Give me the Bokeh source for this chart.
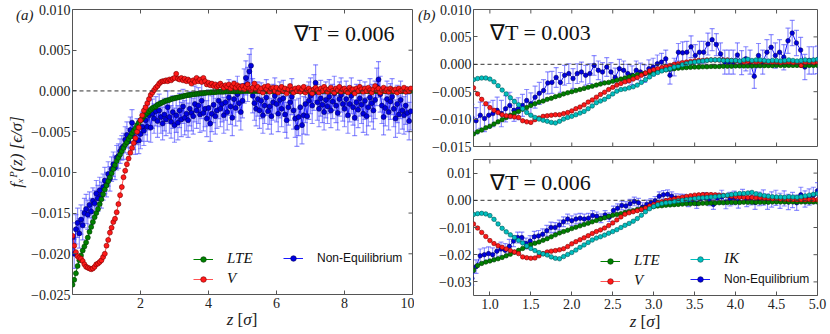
import numpy as np
from bokeh.plotting import figure
from bokeh.models import (ColumnDataSource, Whisker, TeeHead, Span, Label, Legend, LegendItem,
                          FixedTicker, CustomJSTickFormatter, Range1d, Div)
from bokeh.layouts import row, column
from bokeh.embed import file_html
from bokeh.resources import INLINE

SCALE = 1e-3  # values below are in units of 1e-3 eps/sigma

# ---------------- panel (a): grad T = 0.006, z from 0 to 9.95 ----------------
A_Z0, A_Z1 = 0.0, 9.95
lte_a = [-23.8, -23.2, -22.4, -21.5, -20.8, -20.2, -19.6, -19.1, -18.6, -18.0,
         -17.3, -16.7, -16.1, -15.5, -15.0, -14.5, -13.9, -13.3, -12.7, -12.1,
         -11.6, -11.1, -10.6, -10.1, -9.6, -9.1, -8.6, -8.2, -7.8, -7.4,
         -7.0, -6.6, -6.3, -5.9, -5.6, -5.2, -4.9, -4.6, -4.2, -3.9,
         -3.6, -3.4, -3.1, -2.9, -2.7, -2.5, -2.3, -2.1, -2.0, -1.9,
         -1.7, -1.6, -1.5, -1.4, -1.3, -1.2, -1.15, -1.1, -1.0, -0.95,
         -0.9, -0.85, -0.8, -0.75, -0.7, -0.65, -0.6, -0.55, -0.5, -0.5,
         -0.45, -0.4, -0.4, -0.35, -0.35, -0.3, -0.3, -0.25, -0.25, -0.2,
         -0.2, -0.2, -0.15, -0.15, -0.15, -0.1, -0.1, -0.1, -0.1, -0.1,
         -0.05, -0.05, -0.05, -0.05, -0.05, -0.05, -0.05, -0.05, -0.05, -0.05] + [0.0] * 100
v_a = [-17.8, -19.0, -19.8, -20.3, -20.5, -20.6, -20.9, -21.3, -21.6, -21.7,
       -21.8, -21.9, -21.8, -21.6, -21.3, -21.2, -21.0, -20.8, -20.4, -20.0,
       -19.0, -18.3, -17.4, -16.8, -16.1, -15.7, -14.9, -13.9, -12.8, -11.8,
       -10.6, -9.8, -9.0, -8.3, -7.6, -7.0, -6.4, -5.8, -5.0, -4.5,
       -3.6, -3.0, -2.4, -2.0, -1.5, -1.0, -0.5, -0.2, 0.1, 0.4,
       0.6, 0.9, 1.1, 1.2, 1.2, 1.3, 1.2, 1.4, 1.3, 1.5,
       1.6, 2.1, 1.5, 1.4, 1.6, 1.3, 1.5, 1.2, 1.4, 1.2,
       0.9, 1.3, 1.1, 1.6, 1.2, 1.4, 1.1, 1.6, 1.2, 0.8,
       1.0, 0.7, 0.9, 0.6, 0.8, 0.5, 0.7, 0.9, 0.6, 0.4,
       0.7, 0.5, 0.8, 0.3, 0.6, 0.9, 0.4, 0.7, 0.5, 0.3,
       0.6, 0.2, 0.5, 0.8, 0.3, 0.1, 0.4, 0.9, 0.2, 0.5,
       0.0, 0.3, -0.2, 0.5, 0.2, 0.6, -0.1, 0.3, 0.4, 0.0,
       0.4, -0.2, 0.2, 0.5, 0.0, 0.3, -0.3, 0.2, 0.6, 0.1,
       -0.2, 0.3, 0.0, 0.4, -0.1, 0.2, 0.5, -0.2, 0.1, 0.3,
       0.0, -0.3, 0.2, 0.4, 0.1, -0.2, 0.3, 0.0, 0.5, 0.2,
       -0.1, 0.2, 0.4, 0.0, -0.2, 0.3, 0.1, 0.5, -0.1, 0.2,
       0.3, 0.0, -0.2, 0.4, 0.1, 0.2, -0.3, 0.3, 0.0, 0.5,
       0.2, -0.1, 0.3, 0.0, 0.4, 0.1, -0.2, 0.2, 0.6, 0.1,
       0.3, -0.2, 0.1, 0.4, 0.0, 0.2, -0.1, 0.3, 0.1, 0.0,
       0.2, -0.2, 0.3, 0.0, 0.1, 0.4, -0.1, 0.2, 0.0, 0.3]
neq_a = [-18.0, -20.0, -17.0, -16.2, -17.5, -15.8, -16.5, -15.0, -14.5, -15.2,
         -14.0, -14.8, -13.5, -13.8, -12.6, -13.2, -12.2, -12.8, -11.8, -11.0,
         -11.5, -10.2, -10.8, -9.6, -9.0, -9.4, -8.2, -8.0, -7.4, -7.0,
         -6.8, -6.0, -5.4, -6.2, -4.8, -3.9, -5.6, -6.2, -5.0, -6.1,
         -5.3, -4.4, -4.9, -3.6, -4.4, -3.0, -4.5, -2.8, -3.4, -2.5,
         -3.7, -2.4, -3.2, -4.0, -2.9, -3.5, -2.0, -3.2, -3.8, -2.6,
         -4.2, -3.0, -3.9, -2.4, -3.5, -1.9, -3.3, -2.8, -3.6, -2.2,
         -2.7, -3.1, -1.6, -2.4, -1.8, -2.9, -1.2, -2.7, -2.2, -3.4,
         -2.1, -4.0, -2.8, -1.7, -3.1, -2.4, -1.2, -2.2, -1.6, -3.0,
         -1.4, -2.6, -0.8, -1.9, -3.3, -1.0, -2.1, -0.4, -1.5, -2.6,
         -1.2, 0.6, 1.6, 0.8, 2.4, 3.1, -0.6, -1.5, -2.2, -1.0,
         -2.4, -1.2, -3.0, -1.8, -0.8, -2.5, -1.9, -3.1, -1.4, -0.6,
         -1.6, -2.8, -1.1, -2.2, -0.9, -2.9, -3.6, -2.0, -1.4, -0.7,
         -2.4, -3.4, -4.5, -3.2, -2.0, -4.2, -3.0, -1.6, -3.1, -1.2,
         -0.6, -1.8, -0.2, 1.0, -1.4, -2.2, -0.9, -1.7, -2.6, -1.1,
         -1.9, -0.7, -2.4, -1.3, -0.3, -1.8, -2.7, -1.0, -0.5, -1.6,
         -2.2, -1.0, -3.0, -1.6, -0.6, -2.0, -3.3, -1.4, -2.3, -0.9,
         -1.7, -2.8, -1.2, -3.1, -2.0, -0.8, -1.5, -2.4, -1.1, 0.5,
         1.4, -0.4, -1.8, -3.2, -2.1, -1.0, -2.6, -1.3, -0.7, -2.2,
         -3.4, -1.6, -2.9, -1.1, -2.4, -3.0, -1.8, -2.7, -3.7, -2.5]
# half-length of the error bars, one value per block of 10 points
neq_a_err = [1.8, 1.6, 1.5, 1.6, 1.8, 2.0, 2.1, 2.2, 2.2, 2.2,
             2.1, 2.2, 2.2, 2.3, 2.2, 2.1, 2.2, 2.3, 2.2, 2.3]

# ---------------- panel (b): z from 0.8 to 5.0 ----------------
B_Z0, B_Z1 = 0.8, 5.0
NEQ_Z0 = 0.78
# grad T = 0.003 (top)
lte_b1 = [-12.7, -12.3, -12.0, -11.6, -11.3, -10.9, -10.5, -10.1, -9.7, -9.3,
          -8.9, -8.6, -8.2, -7.9, -7.5, -7.2, -6.9, -6.7, -6.4, -6.2,
          -5.9, -5.7, -5.4, -5.2, -5.0, -4.8, -4.6, -4.4, -4.2, -4.0,
          -3.8, -3.6, -3.4, -3.3, -3.1, -2.9, -2.7, -2.5, -2.3, -2.1,
          -1.9, -1.8, -1.6, -1.5, -1.3, -1.2, -1.1, -1.0, -0.9, -0.8,
          -0.7, -0.65, -0.6, -0.55, -0.5, -0.5, -0.45, -0.45, -0.4, -0.4,
          -0.4, -0.35, -0.35, -0.35, -0.3, -0.3, -0.3, -0.3, -0.3, -0.25,
          -0.25, -0.25, -0.25, -0.25, -0.2, -0.2, -0.2, -0.2, -0.2, -0.2,
          -0.2, -0.2, -0.2, -0.2, -0.2]
v_b1 = [-4.3, -5.4, -6.4, -7.2, -7.9, -8.4, -8.8, -9.2, -9.4, -9.5,
        -9.6, -9.7, -10.3, -10.5, -10.6, -10.1, -9.8, -9.5, -9.4, -9.3,
        -9.2, -9.2, -9.0, -8.8, -8.5, -8.1, -7.8, -7.4, -6.9, -6.5,
        -6.0, -5.5, -5.1, -4.6, -4.2, -3.8, -3.5, -3.2, -3.0, -2.7,
        -2.4, -2.0, -1.6, -1.2, -1.0, -0.8, -0.6, -0.4, -0.2, 0.0,
        0.1, 0.3, 0.4, 0.5, 0.6, 0.7, 0.7, 0.8, 0.8, 0.8,
        0.8, 0.8, 0.8, 0.7, 0.6, 0.5, 0.4, 0.5, 0.5, 0.4,
        0.5, 0.5, 0.4, 0.4, 0.4, 0.3, 0.4, 0.4, 0.3, 0.4,
        -0.2, 0.3, 0.4, 0.3, 0.4]
ik_b1 = [-2.8, -2.6, -2.5, -2.5, -2.7, -3.2, -3.9, -4.7, -5.4, -6.1,
         -6.8, -7.4, -8.1, -8.8, -9.3, -9.7, -10.0, -10.2, -10.4, -10.6,
         -10.7, -10.4, -10.0, -9.7, -9.5, -9.2, -8.9, -8.6, -8.1, -7.6,
         -7.0, -6.7, -6.4, -5.9, -5.4, -4.9, -4.6, -4.5, -4.3, -4.1,
         -3.8, -3.3, -2.8, -2.3, -1.8, -1.5, -1.2, -1.0, -0.8, -0.5,
         -0.3, -0.1, 0.1, 0.3, 0.4, 0.5, 0.6, 0.7, 0.8, 0.8,
         0.8, 0.7, 0.7, 0.7, 0.7, 0.6, 0.8, 0.9, 0.7, 0.8,
         0.8, 0.7, 0.6, 0.7, 0.7, 0.6, 0.7, 0.8, 0.7, 0.6,
         0.7, 0.8, 0.7, 0.8, 0.9]
neq_b1 = [-9.7, -10.3, -9.3, -9.9, -9.3, -9.0, -8.4, -9.0, -8.1, -7.5,
          -8.4, -8.1, -7.5, -6.6, -7.2, -6.0, -5.3, -4.8, -3.4, -3.3,
          -2.4, -3.3, -2.0, -1.7, -2.6, -1.7, -1.4, -2.0, -1.7, -0.2,
          -1.1, -1.4, -0.5, -1.4, -2.4, -0.8, -1.1, -1.7, -2.0, -1.1,
          -1.4, -1.7, -0.8, -0.5, 0.1, 0.4, 1.0, -2.0, -0.5, 2.2,
          2.1, 2.2, 3.2, 1.6, 2.2, 2.2, 3.7, 4.5, 3.6, 1.9,
          0.4, 0.4, 0.4, 1.7, 0.3, 1.0, 0.4, -2.2, 1.6, 0.4,
          2.2, 3.1, 1.6, 2.2, 1.3, 4.3, 5.7, 3.9, 2.6, -0.5,
          0.7, 0.7, 0.8]
neq_b1_err = [2.4, 2.0, 1.8, 1.7, 1.6, 2.0, 2.2, 2.3, 2.5]

# grad T = 0.006 (bottom)
lte_b2 = [-25.8, -24.0, -23.2, -22.7, -22.3, -21.9, -21.5, -21.0, -20.4, -19.8,
          -19.1, -18.4, -17.7, -17.0, -16.3, -15.8, -15.3, -14.7, -14.1, -13.4,
          -12.7, -12.0, -11.5, -11.0, -10.4, -9.9, -9.4, -8.9, -8.4, -7.9,
          -7.4, -6.9, -6.4, -5.9, -5.5, -5.2, -4.9, -4.5, -4.1, -3.8,
          -3.4, -3.1, -2.8, -2.5, -2.3, -2.1, -2.0, -1.8, -1.7, -1.6,
          -1.5, -1.4, -1.3, -1.3, -1.2, -1.2, -1.1, -1.1, -1.0, -1.0,
          -0.9, -0.9, -0.8, -0.8, -0.8, -0.8, -0.7, -0.7, -0.7, -0.7,
          -0.7, -0.7, -0.7, -0.6, -0.6, -0.6, -0.6, -0.6, -0.6, -0.6,
          -0.6, -0.6, -0.6, -0.6, -0.6]
v_b2 = [-8.7, -10.2, -11.8, -13.3, -14.8, -15.9, -16.7, -17.3, -17.9, -18.5,
        -19.0, -19.6, -20.8, -21.1, -21.3, -21.2, -20.4, -19.6, -19.0, -18.7,
        -18.5, -18.2, -17.8, -17.0, -16.0, -15.2, -14.5, -13.8, -13.0, -12.2,
        -11.5, -10.9, -10.2, -9.3, -8.3, -7.2, -6.1, -5.1, -4.6, -4.2,
        -3.8, -3.4, -2.8, -2.1, -1.5, -1.0, -0.5, -0.1, 0.2, 0.5,
        0.8, 1.1, 1.4, 1.7, 1.9, 2.0, 2.1, 2.1, 2.1, 2.0,
        1.9, 1.8, 1.7, 1.5, 1.3, 1.2, 1.1, 1.0, 1.0, 0.9,
        0.9, 0.8, 0.7, 0.6, 0.6, 0.5, 0.4, 0.3, 0.3, 0.2,
        0.2, 0.2, 0.3, 0.2, 0.2]
ik_b2 = [-5.2, -4.9, -4.8, -5.0, -5.6, -7.0, -8.7, -10.3, -11.6, -12.7,
         -13.7, -14.7, -15.7, -16.8, -17.7, -18.5, -19.2, -19.7, -20.1, -20.8,
         -21.3, -21.5, -20.7, -19.9, -19.2, -18.3, -17.3, -16.4, -15.5, -14.6,
         -13.9, -13.4, -12.8, -12.1, -11.5, -10.8, -10.0, -9.2, -8.5, -7.7,
         -6.7, -5.5, -4.2, -3.1, -2.3, -1.6, -1.2, -0.9, -0.7, -0.4,
         -0.2, 0.0, 0.2, 0.4, 0.6, 0.8, 0.9, 1.0, 1.2, 1.3,
         1.5, 1.7, 1.9, 2.1, 2.3, 2.5, 2.5, 2.7, 2.9, 2.4,
         2.0, 1.7, 1.5, 1.3, 1.2, 1.2, 1.1, 1.3, 1.2, 1.1,
         1.3, 1.6, 1.9, 2.2, 2.5]
neq_b2 = [-28.7, -24.4, -20.4, -20.0, -19.6, -20.0, -18.7, -17.9, -18.4, -16.9,
          -15.0, -13.7, -13.7, -15.9, -15.0, -13.4, -13.1, -12.5, -11.2, -10.0,
          -10.0, -9.1, -7.9, -6.9, -7.5, -6.9, -6.6, -6.9, -6.6, -5.6,
          -5.9, -6.6, -5.4, -6.2, -3.75, -2.9, -1.9, -2.1, -1.25, -0.4,
          -0.9, -2.5, -1.5, -1.0, -0.2, 1.5, 2.0, 2.2, 1.5, 0.8,
          0.5, 0.4, -0.5, 0.2, -1.2, 0.6, 1.0, -0.2, -1.5, 0.8,
          1.2, -0.6, 0.4, 0.9, -0.4, 1.5, 0.2, 0.8, -0.8, 0.5,
          1.0, -0.5, 0.3, 0.9, -0.2, 0.7, -0.6, 0.1, -0.9, 2.0,
          0.5, 1.2, 1.8, 3.5]
neq_b2_err = [2.5, 2.0, 1.8, 1.6, 1.6, 1.8, 2.5, 2.8, 3.0]

XT_A = [2, 4, 6, 8, 10]
YT_A = [-0.025, -0.02, -0.015, -0.01, -0.005, 0.0, 0.005, 0.01]
XT_B = [1.0, 1.5, 2.0, 2.5, 3.0, 3.5, 4.0, 4.5, 5.0]
YT_B1 = [-0.015, -0.01, -0.005, 0.0, 0.005, 0.01]
YT_B2 = [-0.03, -0.02, -0.01, 0.0, 0.01]

# ---------------- styling ----------------
GREEN, GREEN_E = "#008000", "#003a00"
RED, RED_E = "#ff1a1a", "#7a0000"
CYAN, CYAN_E = "#00bfbf", "#005858"
BLUE, BLUE_E = "#0000e0", "#00005a"
ERR = "#4444ff"
FRAME = "#555555"
SERIF = "Liberation Serif"
INK = "#222222"


def fmt(dec):
    return CustomJSTickFormatter(code=(
        "var t = Math.abs(tick) < 1e-9 ? 0 : tick;"
        f"return t.toFixed({dec}).replace('-', '\\u2212');"))


def style_axis(ax, ticks, dec, size, standoff):
    ax.ticker = FixedTicker(ticks=ticks)
    ax.formatter = fmt(dec)
    ax.axis_line_color = None
    ax.major_tick_in = 4
    ax.major_tick_out = 0
    ax.minor_tick_in = 0
    ax.minor_tick_out = 0
    ax.major_tick_line_color = FRAME
    ax.minor_tick_line_color = None
    ax.major_label_text_font = SERIF
    ax.major_label_text_color = INK
    ax.major_label_text_font_size = size
    ax.major_label_standoff = standoff


def make(w, h, xr, yr, bl, br, bt, bb):
    p = figure(width=w, height=h, x_range=Range1d(*xr), y_range=Range1d(*yr),
               output_backend="svg", toolbar_location=None,
               min_border_left=bl, min_border_right=br, min_border_top=bt, min_border_bottom=bb)
    p.xgrid.visible = False
    p.ygrid.visible = False
    p.outline_line_color = FRAME
    p.outline_line_width = 1
    p.background_fill_color = "white"
    p.border_fill_alpha = 0
    p.add_layout(Span(location=0, dimension="width", line_color="#333333",
                      line_dash="4 3", line_width=1))
    return p


def mirror_ticks(p, xticks, yticks, xr, yr, bottom=False):
    # inward tick marks on the top (and right) edges, clipped to the frame
    ys = [yr[1]] + ([yr[0]] if bottom else [])
    xs = [t for t in xticks if xr[0] < t < xr[1]]
    tx = [x for y in ys for x in xs]
    ty = [y for y in ys for x in xs]
    p.scatter(tx, ty, marker="dash", angle=np.pi / 2, size=8, line_color=FRAME, line_width=1)
    yy = [t for t in yticks if yr[0] < t < yr[1]]
    p.scatter([xr[1]] * len(yy), yy, marker="dash", size=8, line_color=FRAME, line_width=1)


def series(p, z, vals, color, edge, size, line_alpha=1.0):
    src = ColumnDataSource(dict(z=z, y=np.array(vals) * SCALE))
    ln = p.line("z", "y", source=src, line_color=color, line_width=1, line_alpha=line_alpha)
    sc = p.scatter("z", "y", source=src, size=size, fill_color=color, line_color=edge, line_width=0.6)
    return [ln, sc]


def errseries(p, z0, z1, vals, errs, size):
    n = len(vals)
    z = np.linspace(z0, z1, n)
    e = np.repeat(errs, 10)[:n] * SCALE
    y = np.array(vals) * SCALE
    src = ColumnDataSource(dict(z=z, y=y, lo=y - e, hi=y + e))
    w = Whisker(source=src, base="z", lower="lo", upper="hi", dimension="height",
                line_color=ERR, line_alpha=0.6, line_width=1.2, level="underlay",
                upper_head=TeeHead(size=5, line_color=ERR, line_alpha=0.6, line_width=1.2),
                lower_head=TeeHead(size=5, line_color=ERR, line_alpha=0.6, line_width=1.2))
    p.add_layout(w)
    ln = p.line("z", "y", source=src, line_color="#1a1aff", line_width=1)
    sc = p.scatter("z", "y", source=src, size=size, fill_color=BLUE, line_color=BLUE_E, line_width=0.6)
    return [ln, sc]


def legend(items, loc, font, style, size):
    return Legend(items=items, location=loc, orientation="vertical",
                  label_text_font=font, label_text_font_style=style, label_text_font_size=size,
                  label_text_color="#111111",
                  glyph_width=20, glyph_height=14, label_height=14, label_standoff=14,
                  spacing=3, padding=0, margin=0, border_line_color=None,
                  background_fill_alpha=0)


def overlay(width, height, tag, tag_left, zlabel_left, zlabel_top):
    # transparent HTML layer carrying the panel tag and the x-axis title
    serif = "font-family:'Liberation Serif'; color:%s; white-space:nowrap;" % INK
    html = ('<div style="position:relative; width:%dpx; height:%dpx;">' % (width, height)
            + '<div style="position:absolute; left:%dpx; top:7px; %s font-size:15px; '
              'line-height:17px; font-style:italic;">%s</div>' % (tag_left, serif, tag)
            + '<div style="position:absolute; left:%dpx; top:%dpx; width:100px; text-align:center; '
              '%s font-size:17px; line-height:20px;"><i>z</i> [<i>σ</i>]</div>'
              % (zlabel_left, zlabel_top, serif)
            + '</div>')
    return Div(text=html, width=width, height=height, margin=(-height, 0, 0, 0))


# ---------------- panel (a) ----------------
pa = make(414, 334, (0.0, 10.0), (-0.025, 0.010), 72, 2, 9, 40)
style_axis(pa.xaxis[0], XT_A, 0, "14px", 3)
style_axis(pa.yaxis[0], YT_A, 3, "14px", 2)
pa.yaxis[0].axis_label = "fₓᴾ(z) [ϵ/σ]"
pa.yaxis[0].axis_label_text_font = SERIF
pa.yaxis[0].axis_label_text_font_style = "italic"
pa.yaxis[0].axis_label_text_font_size = "17px"
pa.yaxis[0].axis_label_text_color = INK
pa.yaxis[0].axis_label_standoff = 2
mirror_ticks(pa, XT_A, YT_A, (0.0, 10.0), (-0.025, 0.010))

za = np.linspace(A_Z0, A_Z1, len(lte_a))
r_neq_a = errseries(pa, A_Z0, A_Z1, neq_a, neq_a_err, 5)
r_lte_a = series(pa, za, lte_a, GREEN, GREEN_E, 5)
r_v_a = series(pa, np.linspace(A_Z0, A_Z1, len(v_a)), v_a, RED, RED_E, 5, 0.75)

pa.add_layout(legend([LegendItem(label="LTE", renderers=r_lte_a),
                      LegendItem(label="V", renderers=r_v_a)], (121, 7), SERIF, "italic", "15px"))
pa.add_layout(legend([LegendItem(label="Non-Equilibrium", renderers=r_neq_a)], (211, 29),
                     "Liberation Sans", "normal", "12px"))
pa.add_layout(Label(x=6.5, y=0.0070, text="∇T = 0.006", text_font=SERIF,
                    text_font_size="22px", text_baseline="alphabetic", text_color="#111111"))

# ---------------- panel (b) top ----------------
pb1 = make(416, 154, (B_Z0, B_Z1), (-0.015, 0.010), 59, 13, 9, 8)
style_axis(pb1.xaxis[0], XT_B, 1, "14px", 3)
pb1.xaxis[0].visible = False
style_axis(pb1.yaxis[0], YT_B1, 3, "14px", 2)
mirror_ticks(pb1, XT_B, YT_B1, (B_Z0, B_Z1), (-0.015, 0.010), bottom=True)
errseries(pb1, NEQ_Z0, B_Z1, neq_b1, neq_b1_err, 4.5)
series(pb1, np.linspace(B_Z0, B_Z1, len(lte_b1)), lte_b1, GREEN, GREEN_E, 4.5)
series(pb1, np.linspace(B_Z0, B_Z1, len(v_b1)), v_b1, RED, RED_E, 4.5, 0.75)
series(pb1, np.linspace(B_Z0, B_Z1, len(ik_b1)), ik_b1, CYAN, CYAN_E, 4.5)
pb1.add_layout(Label(x=1.0, y=0.0058, text="∇T = 0.003", text_font=SERIF,
                     text_font_size="22px", text_baseline="alphabetic", text_color="#111111"))

# ---------------- panel (b) bottom ----------------
pb2 = make(416, 180, (B_Z0, B_Z1), (-0.035, 0.015), 59, 13, 5, 39)
style_axis(pb2.xaxis[0], XT_B, 1, "14px", 3)
style_axis(pb2.yaxis[0], YT_B2, 2, "14px", 2)
mirror_ticks(pb2, XT_B, YT_B2, (B_Z0, B_Z1), (-0.035, 0.015))
r_neq_b = errseries(pb2, NEQ_Z0, B_Z1, neq_b2, neq_b2_err, 4.5)
r_lte_b = series(pb2, np.linspace(B_Z0, B_Z1, len(lte_b2)), lte_b2, GREEN, GREEN_E, 4.5)
r_v_b = series(pb2, np.linspace(B_Z0, B_Z1, len(v_b2)), v_b2, RED, RED_E, 4.5, 0.75)
r_ik_b = series(pb2, np.linspace(B_Z0, B_Z1, len(ik_b2)), ik_b2, CYAN, CYAN_E, 4.5)
pb2.add_layout(legend([LegendItem(label="LTE", renderers=r_lte_b),
                       LegendItem(label="V", renderers=r_v_b)], (127, 6), SERIF, "italic", "15px"))
pb2.add_layout(legend([LegendItem(label="IK", renderers=r_ik_b)], (217, 28), SERIF, "italic", "15px"))
pb2.add_layout(legend([LegendItem(label="Non-Equilibrium", renderers=r_neq_b)], (217, 9),
                      "Liberation Sans", "normal", "12px"))
pb2.add_layout(Label(x=1.0, y=0.0064, text="∇T = 0.006", text_font=SERIF,
                     text_font_size="22px", text_baseline="alphabetic", text_color="#111111"))

left_col = column(pa, overlay(414, 334, "(a)", 16, 192, 310), spacing=0)
right_col = column(pb1, pb2, overlay(416, 334, "(b)", 4, 181, 312), spacing=0)
layout = row(left_col, right_col, spacing=0)
open("out.html", "w").write(file_html(layout, INLINE))
